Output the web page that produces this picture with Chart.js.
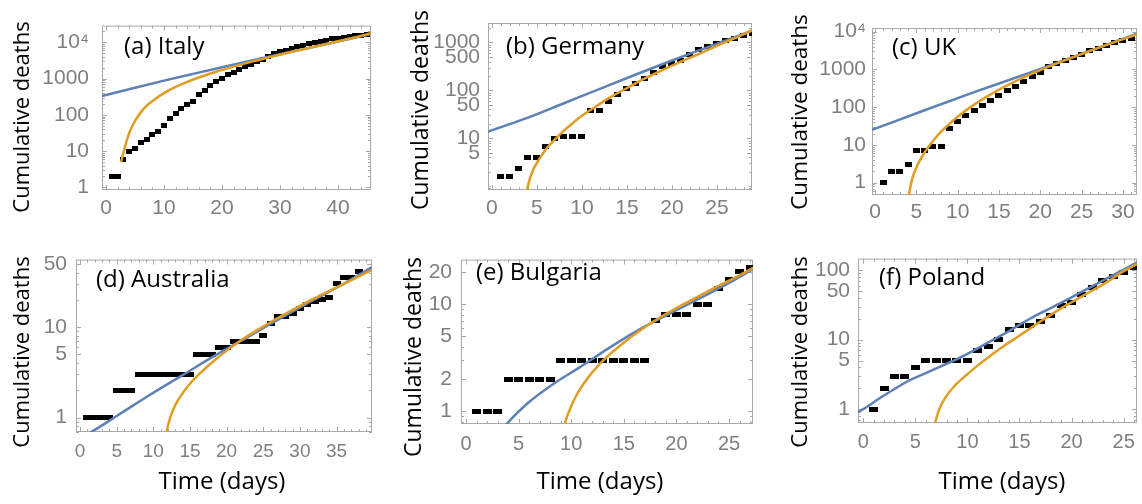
<!DOCTYPE html>
<html>
<head>
<meta charset="utf-8">
<script src="https://cdn.jsdelivr.net/npm/chart.js@4.4.1/dist/chart.umd.min.js"></script>
<style>
  html, body { margin: 0; padding: 0; background: #fff; }
  #page { position: relative; width: 1142px; height: 504px; overflow: hidden; background: #fff; }
  #page canvas { position: absolute; }
</style>
</head>
<body>
<div id="page">
  <canvas id="italy" width="378" height="236" style="left:0;top:0"></canvas>
  <canvas id="germany" width="378" height="236" style="left:380px;top:0"></canvas>
  <canvas id="uk" width="382" height="236" style="left:760px;top:0"></canvas>
  <canvas id="australia" width="378" height="266" style="left:0;top:238px"></canvas>
  <canvas id="bulgaria" width="378" height="266" style="left:380px;top:238px"></canvas>
  <canvas id="poland" width="382" height="266" style="left:760px;top:238px"></canvas>
</div>
<script>
// ---- data ----
const italyDays = [1,2,3,4,5,6,7,8,9,10,11,12,13,14,15,16,17,18,19,20,21,22,23,24,25,26,27,28,29,30,31,32,33,34,35,36,37,38,39,40,41,42,43,44,45];
const italyDeaths = [2,2,6,10,12,17,21,29,34,52,79,107,148,197,233,366,463,631,827,1016,1266,1441,1809,2158,2503,2978,3405,4032,4825,5476,6077,6820,7503,8165,9134,10023,10779,11591,12428,13155,13915,14681,15362,15887,16523];
const italyBlueX = [-0.7, 5, 10, 15, 20, 25, 30, 35, 40, 45.7];
const italyBlueY = [330, 560, 880, 1350, 2050, 3100, 4700, 7000, 10500, 17000];
const italyOrangeX = [2.6, 3, 3.5, 4, 5, 6, 7, 8.5, 10, 12, 14, 16, 19, 22, 25, 28, 31, 34, 37, 40, 43, 45.7];
const italyOrangeY = [5, 8.9, 17.8, 31.6, 67.6, 117, 178, 275, 398, 589, 813, 1072, 1549, 2138, 2884, 3802, 5012, 6457, 8318, 10715, 13804, 17800];
const italyXTicks = [0, 10, 20, 30, 40];
const italyYTicks = [1, 10, 100, 1000, 10000];
const italyYLabels = ['1', '10', '100', '1000', '10⁴'];

const germanyDays = [1,2,3,4,5,6,7,8,9,10,11,12,13,14,15,16,17,18,19,20,21,22,23,24,25,26,27,28,29];
const germanyDeaths = [1.6,1.6,2.4,4,4,6.7,10,11,11,11,38,38,58,83,110,140,180,235,310,370,430,550,700,820,960,1100,1230,1390,1550];
const germanyBlueX = [-0.5, 4, 8, 12, 16, 20, 24, 28.9];
const germanyBlueY = [13.7, 27, 54, 108, 215, 420, 800, 1770];
const germanyOrangeX = [3.7, 3.9, 4.2, 4.6, 5.2, 6, 7, 8, 9, 10, 11.5, 13, 15, 17, 19, 21, 23, 25, 27, 28.9];
const germanyOrangeY = [0.45, 0.83, 1.41, 2.24, 3.55, 5.9, 9.5, 14.5, 20.9, 29.5, 45.7, 69, 112, 178, 269, 398, 575, 851, 1230, 1780];
const germanyXTicks = [0, 5, 10, 15, 20, 25];
const germanyYTicks = [5, 10, 50, 100, 500, 1000];
const germanyYLabels = ['5', '10', '50', '100', '500', '1000'];

const ukDays = [1,2,3,4,5,6,7,8,9,10,11,12,13,14,15,16,17,18,19,20,21,22,23,24,25,26,27,28,29,30,31];
const ukDeaths = [1,2,2,3,7,7,9,9,28,41,62,84,114,155,210,285,349,473,643,815,1175,1440,1706,2090,2515,3140,3620,4440,5120,6020,6660];
const ukBlueX = [-0.36, 6, 12, 18, 24, 31.7];
const ukBlueY = [25, 83, 250, 720, 2140, 8900];
const ukOrangeX = [3.9, 4.1, 4.5, 5, 6, 7, 8, 9, 10, 12, 14, 16, 18, 20, 22, 25, 28, 31.7];
const ukOrangeY = [0.25, 0.47, 1.26, 2.5, 6.3, 12.6, 22.4, 36, 56, 117, 219, 380, 617, 955, 1445, 2570, 4470, 8510];
const ukXTicks = [0, 5, 10, 15, 20, 25, 30];
const ukYTicks = [1, 10, 100, 1000, 10000];
const ukYLabels = ['1', '10', '100', '1000', '10⁴'];

const australiaDays = [1,2,3,4,5,6,7,8,9,10,11,12,13,14,15,16,17,18,19,20,21,22,23,24,25,26,27,28,29,30,31,32,33,34,35,36,37,38];
const australiaDeaths = [1,1,1,1,2,2,2,3,3,3,3,3,3,3,3,5,5,5,6,6,7,7,7,7,8,11,13,13,14,16,18,19,20,21,30,35,35,41];
const australiaBlueX = [1.0, 1.6, 5, 9.5, 14, 18.5, 23, 27.5, 32, 36, 39.8];
const australiaBlueY = [0.66, 0.70, 1.04, 1.78, 2.95, 4.9, 7.85, 12.7, 20.2, 30.2, 45.7];
const australiaOrangeX = [11.5, 11.8, 12.3, 13, 14, 15, 16.5, 18, 20, 22, 24, 26.5, 29, 32, 35, 37.5, 39.8];
const australiaOrangeY = [0.45, 0.69, 1.0, 1.38, 1.86, 2.37, 3.16, 4.07, 5.5, 7.2, 9.1, 12, 15.5, 20.9, 27.5, 34.7, 42.7];
const australiaXTicks = [0, 5, 10, 15, 20, 25, 30, 35];
const australiaYTicks = [1, 5, 10, 50];
const australiaYLabels = ['1', '5', '10', '50'];

const bulgariaDays = [1,2,3,4,5,6,7,8,9,10,11,12,13,14,15,16,17,18,19,20,21,22,23,24,25,26,27];
const bulgariaDeaths = [1,1,1,2,2,2,2,2,3,3,3,3,3,3,3,3,3,7,8,8,8,10,10,14,17,20,22];
const bulgariaBlueX = [3.6, 3.87, 6, 8.3, 10.8, 13.5, 16.5, 19.5, 22.5, 25, 27.3];
const bulgariaBlueY = [0.70, 0.76, 1.22, 1.8, 2.57, 3.85, 5.82, 8.3, 11.7, 15.8, 21.4];
const bulgariaOrangeX = [9.2, 9.4, 9.8, 10.5, 11.5, 12.5, 14, 15.5, 17, 18.5, 20, 22, 24, 25.7, 27.3];
const bulgariaOrangeY = [0.55, 0.76, 1.0, 1.41, 2.0, 2.63, 3.63, 4.79, 6.1, 7.6, 9.2, 11.7, 14.8, 18, 21.9];
const bulgariaXTicks = [0, 5, 10, 15, 20, 25];
const bulgariaYTicks = [1, 2, 5, 10, 20];
const bulgariaYLabels = ['1', '2', '5', '10', '20'];

const polandDays = [1,2,3,4,5,6,7,8,9,10,11,12,13,14,15,16,17,18,19,20,21,22,23,24,25,26];
const polandDeaths = [1,2,3,3,4,5,5,5,5,5,7,8,10,14,16,16,18,22,31,34,44,57,71,81,94,110];
const polandBlueX = [-0.5, 0, 1.5, 3, 4.5, 6, 7.5, 9, 10.5, 12, 14, 16, 18, 20, 22, 24, 26.3];
const polandBlueY = [0.91, 1.0, 1.41, 1.95, 2.63, 3.31, 4.17, 5.25, 6.84, 9.12, 13.3, 20, 28.5, 40.7, 59, 85, 130];
const polandOrangeX = [6.7, 6.9, 7.3, 7.9, 8.8, 9.8, 11, 12.3, 13.6, 14.9, 16.2, 17.5, 19, 20.5, 22, 23.5, 25, 26.3];
const polandOrangeY = [0.45, 0.63, 1.0, 1.48, 2.19, 3.0, 4.27, 6.0, 8.3, 11.2, 15.1, 20.4, 28.2, 38, 51, 69, 96.6, 123];
const polandXTicks = [0, 5, 10, 15, 20, 25];
const polandYTicks = [1, 5, 10, 50, 100];
const polandYLabels = ['1', '5', '10', '50', '100'];

// ---- styles ----
const BLUE = '#5e81b5';
const ORANGE = '#e19c24';
const TICK_GRAY = '#7f7f7f';
const FRAME_GRAY = '#a9a9a9';
const TICK_FONT = '"Liberation Sans", Arial, sans-serif';
const TITLE_FONT = '"Open Sans", sans-serif';

function pts(xs, ys) {
  return xs.map((x, i) => ({ x: x, y: ys[i] }));
}

function markerImage(w, h) {
  const c = document.createElement('canvas');
  c.width = w;
  c.height = h;
  const g = c.getContext('2d');
  g.fillStyle = '#000';
  g.fillRect(0, 0, w, h);
  return c;
}

// frame with inward tick marks, like the original plots
const frameTicks = {
  id: 'frameTicks',
  beforeDatasetsDraw(chart, args, o) {
    const { ctx, chartArea: a } = chart;
    const xs = chart.scales.x, ys = chart.scales.y;
    ctx.save();
    ctx.strokeStyle = FRAME_GRAY;
    ctx.lineWidth = 1;
    ctx.strokeRect(a.left + 0.5, a.top + 0.5, a.right - a.left - 1, a.bottom - a.top - 1);
    ctx.beginPath();
    const first = Math.ceil(xs.min / o.minorX) * o.minorX;
    for (let v = first; v <= xs.max; v += o.minorX) {
      const px = Math.round(xs.getPixelForValue(v)) + 0.5;
      const major = o.xTicks.some(t => Math.abs(t - v) < 1e-6);
      const len = major ? 5 : 3;
      ctx.moveTo(px, a.bottom); ctx.lineTo(px, a.bottom - len);
      ctx.moveTo(px, a.top); ctx.lineTo(px, a.top + len);
    }
    const k0 = Math.floor(Math.log10(ys.min)), k1 = Math.ceil(Math.log10(ys.max));
    for (let k = k0; k <= k1; k++) {
      for (let m = 1; m <= 9; m++) {
        const v = m * Math.pow(10, k);
        if (v < ys.min || v > ys.max) continue;
        const py = Math.round(ys.getPixelForValue(v)) + 0.5;
        const len = o.yTicks.includes(v) ? 5 : 3;
        ctx.moveTo(a.left, py); ctx.lineTo(a.left + len, py);
        ctx.moveTo(a.right, py); ctx.lineTo(a.right - len, py);
      }
    }
    ctx.stroke();
    ctx.restore();
  }
};

// panel label and axis titles
const panelText = {
  id: 'panelText',
  afterDraw(chart, args, o) {
    const ctx = chart.ctx;
    ctx.save();
    ctx.fillStyle = '#000';
    ctx.textBaseline = 'middle';
    ctx.font = o.labelSize + 'px ' + TITLE_FONT;
    ctx.textAlign = 'left';
    ctx.fillText(o.label, o.labelPos[0] - o.left, o.labelPos[1] - o.top);

    ctx.font = o.titleSize + 'px ' + TITLE_FONT;
    ctx.textAlign = 'center';
    ctx.save();
    ctx.translate(o.yTitlePos[0] - o.left, o.yTitlePos[1] - o.top);
    ctx.rotate(-Math.PI / 2);
    ctx.fillText('Cumulative deaths', 0, 0);
    ctx.restore();
    if (o.xTitlePos) {
      ctx.font = '24px ' + TITLE_FONT;
      ctx.fillText('Time (days)', o.xTitlePos[0] - o.left, o.xTitlePos[1] - o.top);
    }
    ctx.restore();
  }
};

function makePanel(p) {
  const [bl, bt, bw, bh] = p.box;
  const [L, T, R, B] = p.area;
  return new Chart(document.getElementById(p.id), {
    type: 'scatter',
    data: {
      datasets: [
        { data: pts(p.orange[0], p.orange[1]), showLine: true, borderColor: ORANGE, borderWidth: 2.5,
          pointRadius: 0, cubicInterpolationMode: 'monotone' },
        { data: pts(p.blue[0], p.blue[1]), showLine: true, borderColor: BLUE, borderWidth: 2.5,
          pointRadius: 0, cubicInterpolationMode: 'monotone' },
        { data: pts(p.days, p.deaths), showLine: false, pointRadius: 3,
          pointStyle: markerImage(p.marker[0], p.marker[1]) }
      ]
    },
    options: {
      responsive: false,
      animation: false,
      events: [],
      layout: { padding: { top: T - bt, right: bl + bw - R, left: 0, bottom: 0 } },
      plugins: {
        legend: { display: false },
        tooltip: { enabled: false },
        frameTicks: { minorX: p.minorX, xTicks: p.xTicks, yTicks: p.yTicks },
        panelText: { left: bl, top: bt, label: p.label, labelPos: p.labelPos, labelSize: p.labelSize,
                     yTitlePos: p.yTitlePos, titleSize: p.titleSize, xTitlePos: p.xTitlePos }
      },
      scales: {
        x: {
          type: 'linear', min: p.xRange[0], max: p.xRange[1], bounds: 'data',
          afterBuildTicks: s => { s.ticks = p.xTicks.map(v => ({ value: v })); },
          afterFit: s => { s.height = bt + bh - B; },
          grid: { display: false, drawTicks: false },
          border: { display: false },
          ticks: { autoSkip: false, maxRotation: 0, color: TICK_GRAY, padding: p.xPad,
                   font: { family: TICK_FONT, size: p.xFont }, callback: v => String(v) }
        },
        y: {
          type: 'logarithmic', min: p.yRange[0], max: p.yRange[1], bounds: 'data',
          afterBuildTicks: s => { s.ticks = p.yTicks.map(v => ({ value: v })); },
          afterFit: s => { s.width = L - bl; },
          grid: { display: false, drawTicks: false },
          border: { display: false },
          ticks: { autoSkip: false, color: TICK_GRAY, padding: p.yPad,
                   font: { family: TICK_FONT, size: 21 }, callback: (v, i) => p.yLabels[i] }
        }
      }
    },
    plugins: [frameTicks, panelText]
  });
}

makePanel({ id: 'italy', box: [0, 0, 378, 236], area: [102, 23, 371, 190],
  xRange: [-0.69, 45.7], yRange: [0.845, 28950],
  xTicks: italyXTicks, yTicks: italyYTicks, yLabels: italyYLabels,
  days: italyDays, deaths: italyDeaths, blue: [italyBlueX, italyBlueY], orange: [italyOrangeX, italyOrangeY],
  marker: [6, 5], minorX: 2, xPad: 6, yPad: 13, xFont: 21,
  label: '(a) Italy', labelPos: [124, 47], labelSize: 24, yTitlePos: [23, 117], titleSize: 22 });

makePanel({ id: 'germany', box: [380, 0, 378, 236], area: [488, 23, 752, 190],
  xRange: [-0.44, 28.9], yRange: [0.834, 2550],
  xTicks: germanyXTicks, yTicks: germanyYTicks, yLabels: germanyYLabels,
  days: germanyDays, deaths: germanyDeaths, blue: [germanyBlueX, germanyBlueY], orange: [germanyOrangeX, germanyOrangeY],
  marker: [7, 5], minorX: 1, xPad: 6, yPad: 8, xFont: 21,
  label: '(b) Germany', labelPos: [506, 47], labelSize: 24, yTitlePos: [421, 110], titleSize: 23 });

makePanel({ id: 'uk', box: [760, 0, 382, 236], area: [872, 28, 1139, 195],
  xRange: [-0.36, 31.7], yRange: [0.472, 12530],
  xTicks: ukXTicks, yTicks: ukYTicks, yLabels: ukYLabels,
  days: ukDays, deaths: ukDeaths, blue: [ukBlueX, ukBlueY], orange: [ukOrangeX, ukOrangeY],
  marker: [7, 5], minorX: 1, xPad: 5, yPad: 6, xFont: 21,
  label: '(c) UK', labelPos: [892, 48], labelSize: 24, yTitlePos: [801, 112], titleSize: 22.5 });

makePanel({ id: 'australia', box: [0, 238, 378, 266], area: [76, 249, 372, 432],
  xRange: [-0.55, 39.84], yRange: [0.693, 55.8],
  xTicks: australiaXTicks, yTicks: australiaYTicks, yLabels: australiaYLabels,
  days: australiaDays, deaths: australiaDeaths, blue: [australiaBlueX, australiaBlueY], orange: [australiaOrangeX, australiaOrangeY],
  marker: [8, 5], minorX: 1, xPad: 8, yPad: 9, xFont: 19,
  label: '(d) Australia', labelPos: [96, 280], labelSize: 24, yTitlePos: [23, 352], titleSize: 22,
  xTitlePos: [222, 482] });

makePanel({ id: 'bulgaria', box: [380, 238, 378, 266], area: [461, 243.5, 753, 424],
  xRange: [-0.475, 27.28], yRange: [0.76, 26.1],
  xTicks: bulgariaXTicks, yTicks: bulgariaYTicks, yLabels: bulgariaYLabels,
  days: bulgariaDays, deaths: bulgariaDeaths, blue: [bulgariaBlueX, bulgariaBlueY], orange: [bulgariaOrangeX, bulgariaOrangeY],
  marker: [9, 5], minorX: 1, xPad: 8, yPad: 9, xFont: 20,
  label: '(e) Bulgaria', labelPos: [476, 273], labelSize: 24, yTitlePos: [414, 357], titleSize: 23,
  xTitlePos: [600, 482] });

makePanel({ id: 'poland', box: [760, 238, 382, 266], area: [858, 248, 1140, 423],
  xRange: [-0.5, 26.28], yRange: [0.633, 146.6],
  xTicks: polandXTicks, yTicks: polandYTicks, yLabels: polandYLabels,
  days: polandDays, deaths: polandDeaths, blue: [polandBlueX, polandBlueY], orange: [polandOrangeX, polandOrangeY],
  marker: [9, 5], minorX: 1, xPad: 7, yPad: 8, xFont: 20,
  label: '(f) Poland', labelPos: [879, 278], labelSize: 24, yTitlePos: [801, 352], titleSize: 22,
  xTitlePos: [1002, 482] });
</script>
</body>
</html>
